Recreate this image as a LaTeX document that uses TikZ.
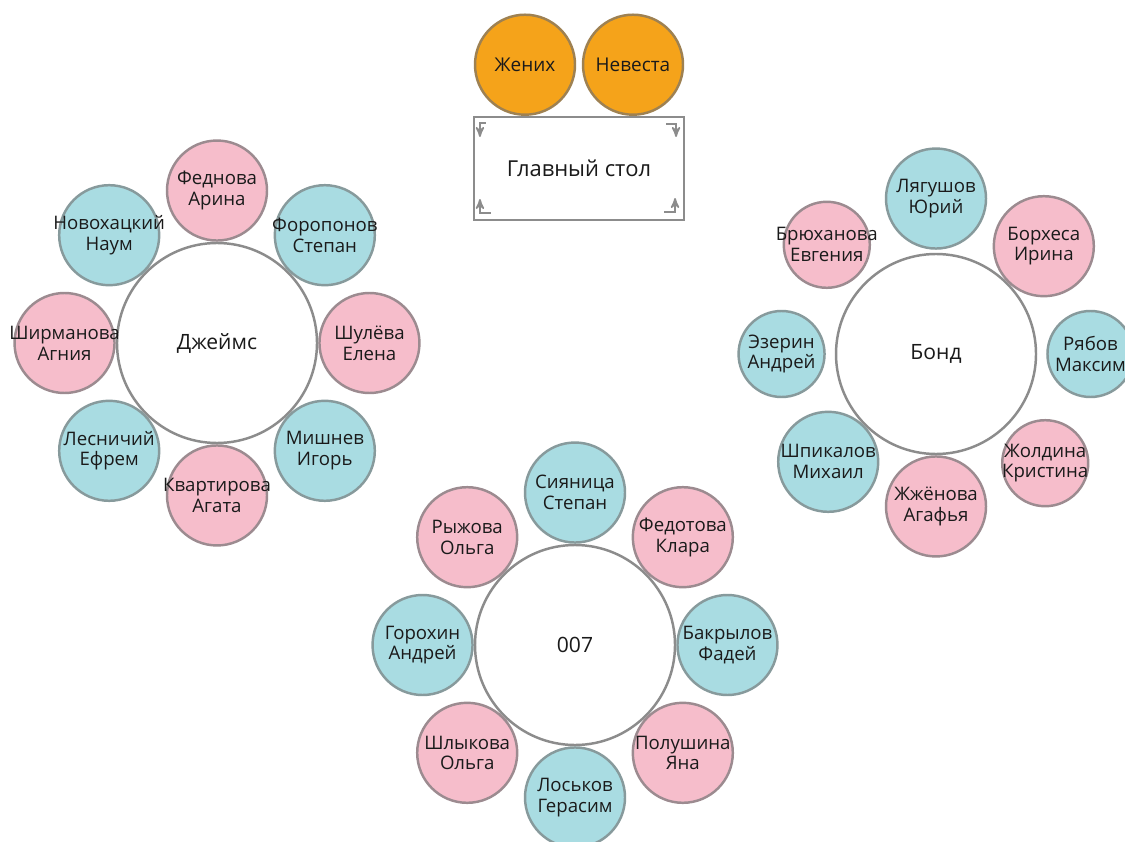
\documentclass[tikz,border=0pt]{standalone}
\usepackage{fontspec}
\setmainfont{Open Sans}
\usetikzlibrary{shapes,arrows,positioning}

\definecolor{pinkfill}{HTML}{F6BDCB}
\definecolor{pinkline}{HTML}{9C8B90}
\definecolor{bluefill}{HTML}{A9DCE2}
\definecolor{blueline}{HTML}{879A9C}
\definecolor{orangefill}{HTML}{F5A31A}
\definecolor{orangeline}{HTML}{9E8152}
\definecolor{tableline}{HTML}{8C8C8C}
\definecolor{textcol}{HTML}{1A1A1A}

\begin{document}
\begin{tikzpicture}[
    node distance=0pt and 0pt,
    roundtable/.style={draw=tableline, fill=white, circle, line width=1.4pt, minimum size=4cm, inner sep=0pt, font=\fontsize{12}{14}\selectfont, text=textcol},
    guest/.style={draw, circle, line width=1.4pt, minimum size=2cm, inner sep=0pt},
    girl/.style={guest, draw=pinkline, fill=pinkfill},
    boy/.style={guest, draw=blueline, fill=bluefill},
    smallseat/.style={minimum size=1.72cm},
    guestname/.style={font=\fontsize{10.6}{11.8}\selectfont, align=center, text=textcol, inner sep=0pt},
    couple/.style={guest, draw=orangeline, fill=orangefill, font=\fontsize{10.8}{12}\selectfont, text=textcol},
    headtable/.style={draw=tableline, fill=white, rectangle, line width=1.2pt, minimum width=4.2cm, minimum height=2.06cm, font=\fontsize{12.5}{15}\selectfont, text=textcol},
    cornermark/.style={->, >=stealth', draw=tableline, line width=1pt}
]
\useasboundingbox (0,0) rectangle (22.5,-16.84);
\fill[white] (0,0) rectangle (22.5,-16.84);
\clip (0,0) rectangle (22.5,-16.84);

% Head table
\node[headtable] (head) at (11.58,-3.37) {Главный стол};
\node[couple, above=0pt of head, xshift=-1.08cm] (groom) {Жених};
\node[couple, above=0pt of head, xshift=1.08cm] (bride) {Невеста};

% Corner marks
\draw[cornermark] ([shift={(0.26,-0.14)}]head.north west) -- ++(-0.12,0) -- ++(0,-0.28);
\draw[cornermark] ([shift={(-0.38,-0.16)}]head.north east) -- ++(0.2,0) -- ++(0,-0.26);
\draw[cornermark] ([shift={(0.36,0.16)}]head.south west) -- ++(-0.22,0) -- ++(0,0.28);
\draw[cornermark] ([shift={(-0.42,0.18)}]head.south east) -- ++(0.22,0) -- ++(0,0.28);

% Table James
\node[roundtable] (james) at (4.34,-6.86) {Джеймс};
\node[girl, above=of james, label={[guestname]center:{Феднова\\Арина}}] (fednova) {};
\node[boy, above right=of james, label={[guestname]center:{Форопонов\\Степан}}] (foroponov) {};
\node[girl, right=of james, label={[guestname]center:{Шулёва\\Елена}}] (shuleva) {};
\node[boy, below right=of james, label={[guestname]center:{Мишнев\\Игорь}}] (mishnev) {};
\node[girl, below=of james, label={[guestname]center:{Квартирова\\Агата}}] (kvartirova) {};
\node[boy, below left=of james, label={[guestname]center:{Лесничий\\Ефрем}}] (lesnichiy) {};
\node[girl, left=of james, label={[guestname]center:{Ширманова\\Агния}}] (shirmanova) {};
\node[boy, above left=of james, label={[guestname]center:{Новохацкий\\Наум}}] (novohatskiy) {};

% Table Bond
\node[roundtable] (bond) at (18.72,-7.08) {Бонд};
\node[boy, above=0.06cm of bond, label={[guestname]center:{Лягушов\\Юрий}}] (lyagushov) {};
\node[girl, above right=of bond, label={[guestname]center:{Борхеса\\Ирина}}] (borhesa) {};
\node[boy, smallseat, right=0.18cm of bond, label={[guestname]center:{Рябов\\Максим}}] (ryabov) {};
\node[girl, smallseat, below right=0.127cm and 0.127cm of bond, label={[guestname]center:{Жолдина\\Кристина}}] (zholdina) {};
\node[girl, below=of bond, label={[guestname]center:{Жжёнова\\Агафья}}] (zhzhenova) {};
\node[boy, below left=of bond, label={[guestname]center:{Шпикалов\\Михаил}}] (shpikalov) {};
\node[boy, smallseat, left=0.18cm of bond, label={[guestname]center:{Эзерин\\Андрей}}] (ezerin) {};
\node[girl, smallseat, above left=0.127cm and 0.127cm of bond, label={[guestname]center:{Брюханова\\Евгения}}] (bryuhanova) {};

% Table 007
\node[roundtable] (agent) at (11.5,-12.9) {007};
\node[boy, above=of agent, label={[guestname]center:{Сияница\\Степан}}] (siyanitsa) {};
\node[girl, above right=of agent, label={[guestname]center:{Федотова\\Клара}}] (fedotova) {};
\node[boy, right=of agent, label={[guestname]center:{Бакрылов\\Фадей}}] (bakrylov) {};
\node[girl, below right=of agent, label={[guestname]center:{Полушина\\Яна}}] (polushina) {};
\node[boy, below=of agent, label={[guestname]center:{Лоськов\\Герасим}}] (loskov) {};
\node[girl, below left=of agent, label={[guestname]center:{Шлыкова\\Ольга}}] (shlykova) {};
\node[boy, left=of agent, label={[guestname]center:{Горохин\\Андрей}}] (gorohin) {};
\node[girl, above left=of agent, label={[guestname]center:{Рыжова\\Ольга}}] (ryzhova) {};
\end{tikzpicture}
\end{document}
